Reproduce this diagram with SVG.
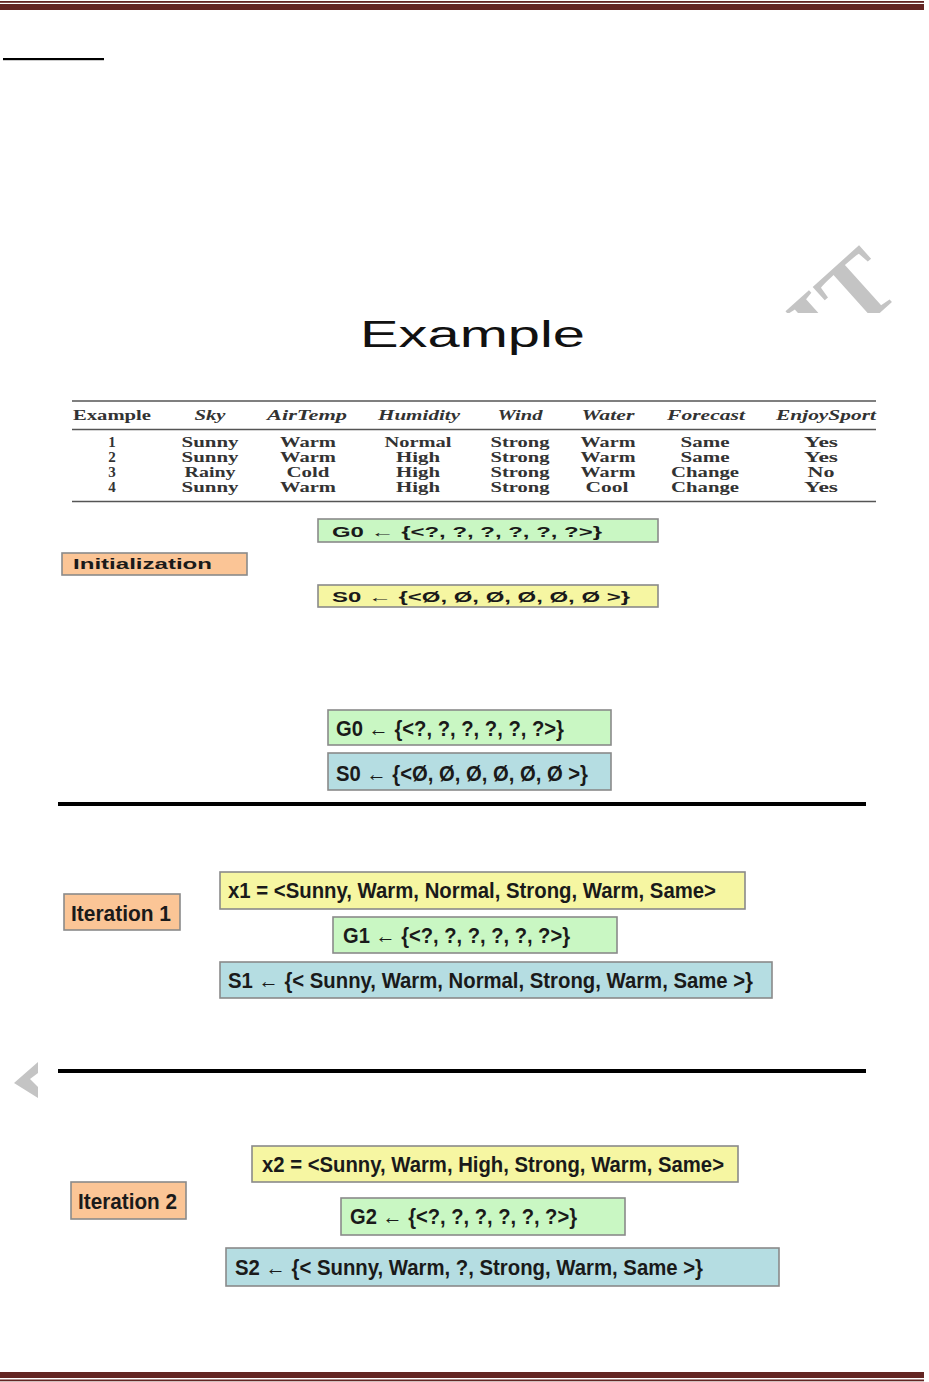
<svg xmlns="http://www.w3.org/2000/svg" width="929" height="1382" viewBox="0 0 929 1382">
<defs>
<style>
.bar{fill:#632523}
.rule{stroke:#000;stroke-width:4}
.tr{stroke:#555;stroke-width:1.6}
.th{font-family:"Liberation Serif",serif;font-size:15px;font-style:italic;font-weight:bold;fill:#333;text-anchor:middle}
.td{font-family:"Liberation Serif",serif;font-size:15px;font-weight:bold;fill:#333;text-anchor:middle}
.box{stroke:#8a8a8a;stroke-width:1.6}
.g{fill:#c9f7c3}
.y{fill:#f6f6a2}
.b{fill:#b5dde2}
.o{fill:#fbc596}
.t14{font-family:"Liberation Sans",Arial,sans-serif;font-weight:bold;font-size:14px;fill:#1a1a1a}
.t20{font-family:"Liberation Sans Narrow","Liberation Sans",Arial,sans-serif;font-weight:bold;font-size:22px;fill:#1a1a1a}
.wm{font-family:"Liberation Serif",serif;font-weight:bold;fill:#c4c4c4}
</style>
<clipPath id="c1" clipPathUnits="userSpaceOnUse"><rect x="740" y="220" width="189" height="93"/></clipPath>
</defs>

<g id="page-bars">
<rect class="bar" x="0" y="1" width="924" height="1.8"/>
<rect class="bar" x="0" y="4" width="924" height="6"/>
<rect class="bar" x="0" y="1372" width="924" height="6"/>
<rect class="bar" x="0" y="1379.5" width="924" height="1.8"/>
<rect x="3" y="58" width="101" height="2.2" fill="#000"/>
</g>

<g id="watermark">
<g clip-path="url(#c1)">
<text class="wm" font-size="98" text-anchor="end" transform="translate(903,292) rotate(-42)">IT</text>
</g>
<polygon fill="#c4c4c4" points="38,1062 14,1083 38,1098 38,1087 30,1079 38,1073"/>
</g>

<g id="title">
<text x="360" y="347" font-family="Liberation Sans,Arial,sans-serif" font-size="36" fill="#111" textLength="225" lengthAdjust="spacingAndGlyphs">Example</text>
</g>

<g id="table">
<line class="tr" x1="72" y1="401" x2="876" y2="401"/>
<line class="tr" x1="72" y1="429.5" x2="876" y2="429.5"/>
<line class="tr" x1="72" y1="501.5" x2="876" y2="501.5"/>
<text class="td" x="112" y="420" textLength="78" lengthAdjust="spacingAndGlyphs">Example</text>
<text class="th" x="210" y="420" textLength="31" lengthAdjust="spacingAndGlyphs">Sky</text>
<text class="th" x="307" y="420" textLength="80" lengthAdjust="spacingAndGlyphs">AirTemp</text>
<text class="th" x="419" y="420" textLength="82" lengthAdjust="spacingAndGlyphs">Humidity</text>
<text class="th" x="520" y="420" textLength="45" lengthAdjust="spacingAndGlyphs">Wind</text>
<text class="th" x="608" y="420" textLength="53" lengthAdjust="spacingAndGlyphs">Water</text>
<text class="th" x="706" y="420" textLength="78" lengthAdjust="spacingAndGlyphs">Forecast</text>
<text class="th" x="826" y="420" textLength="100" lengthAdjust="spacingAndGlyphs">EnjoySport</text>

<text class="td" x="112" y="447">1</text>
<text class="td" x="112" y="462">2</text>
<text class="td" x="112" y="477">3</text>
<text class="td" x="112" y="492">4</text>

<text class="td" x="210" y="447" textLength="57" lengthAdjust="spacingAndGlyphs">Sunny</text>
<text class="td" x="210" y="462" textLength="57" lengthAdjust="spacingAndGlyphs">Sunny</text>
<text class="td" x="210" y="477" textLength="51" lengthAdjust="spacingAndGlyphs">Rainy</text>
<text class="td" x="210" y="492" textLength="57" lengthAdjust="spacingAndGlyphs">Sunny</text>

<text class="td" x="308" y="447" textLength="56" lengthAdjust="spacingAndGlyphs">Warm</text>
<text class="td" x="308" y="462" textLength="56" lengthAdjust="spacingAndGlyphs">Warm</text>
<text class="td" x="308" y="477" textLength="43" lengthAdjust="spacingAndGlyphs">Cold</text>
<text class="td" x="308" y="492" textLength="56" lengthAdjust="spacingAndGlyphs">Warm</text>

<text class="td" x="418" y="447" textLength="67" lengthAdjust="spacingAndGlyphs">Normal</text>
<text class="td" x="418" y="462" textLength="44" lengthAdjust="spacingAndGlyphs">High</text>
<text class="td" x="418" y="477" textLength="44" lengthAdjust="spacingAndGlyphs">High</text>
<text class="td" x="418" y="492" textLength="44" lengthAdjust="spacingAndGlyphs">High</text>

<text class="td" x="520" y="447" textLength="59" lengthAdjust="spacingAndGlyphs">Strong</text>
<text class="td" x="520" y="462" textLength="59" lengthAdjust="spacingAndGlyphs">Strong</text>
<text class="td" x="520" y="477" textLength="59" lengthAdjust="spacingAndGlyphs">Strong</text>
<text class="td" x="520" y="492" textLength="59" lengthAdjust="spacingAndGlyphs">Strong</text>

<text class="td" x="608" y="447" textLength="55" lengthAdjust="spacingAndGlyphs">Warm</text>
<text class="td" x="608" y="462" textLength="55" lengthAdjust="spacingAndGlyphs">Warm</text>
<text class="td" x="608" y="477" textLength="55" lengthAdjust="spacingAndGlyphs">Warm</text>
<text class="td" x="607" y="492" textLength="43" lengthAdjust="spacingAndGlyphs">Cool</text>

<text class="td" x="705" y="447" textLength="49" lengthAdjust="spacingAndGlyphs">Same</text>
<text class="td" x="705" y="462" textLength="49" lengthAdjust="spacingAndGlyphs">Same</text>
<text class="td" x="705" y="477" textLength="68" lengthAdjust="spacingAndGlyphs">Change</text>
<text class="td" x="705" y="492" textLength="68" lengthAdjust="spacingAndGlyphs">Change</text>

<text class="td" x="821" y="447" textLength="34" lengthAdjust="spacingAndGlyphs">Yes</text>
<text class="td" x="821" y="462" textLength="34" lengthAdjust="spacingAndGlyphs">Yes</text>
<text class="td" x="821" y="477" textLength="27" lengthAdjust="spacingAndGlyphs">No</text>
<text class="td" x="821" y="492" textLength="34" lengthAdjust="spacingAndGlyphs">Yes</text>
</g>

<g id="init-G0">
<rect class="box g" x="318" y="519" width="340" height="23"/>
<text class="t14" x="332" y="537" textLength="270" lengthAdjust="spacingAndGlyphs">G0 ← {&lt;?, ?, ?, ?, ?, ?&gt;}</text>
</g>
<g id="init-label">
<rect class="box o" x="62" y="553" width="185" height="22"/>
<text class="t14" x="73" y="569" textLength="139" lengthAdjust="spacingAndGlyphs">Initialization</text>
</g>
<g id="init-S0">
<rect class="box y" x="318" y="585" width="340" height="22"/>
<text class="t14" x="332" y="602" textLength="298" lengthAdjust="spacingAndGlyphs">S0 ← {&lt;Ø, Ø, Ø, Ø, Ø, Ø &gt;}</text>
</g>

<g id="step0-G0">
<rect class="box g" x="328" y="710" width="283" height="35"/>
<text class="t20" x="336" y="736" textLength="228" lengthAdjust="spacingAndGlyphs">G0 ← {&lt;?, ?, ?, ?, ?, ?&gt;}</text>
</g>
<g id="step0-S0">
<rect class="box b" x="328" y="753" width="283" height="37"/>
<text class="t20" x="336" y="781" textLength="252" lengthAdjust="spacingAndGlyphs">S0 ← {&lt;Ø, Ø, Ø, Ø, Ø, Ø &gt;}</text>
</g>

<g id="separators">
<line class="rule" x1="58" y1="804" x2="866" y2="804"/>
<line class="rule" x1="58" y1="1071" x2="866" y2="1071"/>
</g>

<g id="iter1-label">
<rect class="box o" x="64" y="894" width="116" height="36"/>
<text class="t20" x="71" y="921" textLength="100" lengthAdjust="spacingAndGlyphs">Iteration 1</text>
</g>
<g id="iter1-x1">
<rect class="box y" x="220" y="872" width="525" height="37"/>
<text class="t20" x="228" y="898" textLength="488" lengthAdjust="spacingAndGlyphs">x1 = &lt;Sunny, Warm, Normal, Strong, Warm, Same&gt;</text>
</g>
<g id="iter1-G1">
<rect class="box g" x="333" y="917" width="284" height="36"/>
<text class="t20" x="343" y="943" textLength="227" lengthAdjust="spacingAndGlyphs">G1 ← {&lt;?, ?, ?, ?, ?, ?&gt;}</text>
</g>
<g id="iter1-S1">
<rect class="box b" x="220" y="962" width="552" height="36"/>
<text class="t20" x="228" y="988" textLength="525" lengthAdjust="spacingAndGlyphs">S1 ← {&lt; Sunny, Warm, Normal, Strong, Warm, Same &gt;}</text>
</g>

<g id="iter2-label">
<rect class="box o" x="71" y="1182" width="115" height="37"/>
<text class="t20" x="78" y="1209" textLength="99" lengthAdjust="spacingAndGlyphs">Iteration 2</text>
</g>
<g id="iter2-x2">
<rect class="box y" x="252" y="1146" width="486" height="36"/>
<text class="t20" x="262" y="1172" textLength="462" lengthAdjust="spacingAndGlyphs">x2 = &lt;Sunny, Warm, High, Strong, Warm, Same&gt;</text>
</g>
<g id="iter2-G2">
<rect class="box g" x="341" y="1198" width="284" height="37"/>
<text class="t20" x="350" y="1224" textLength="227" lengthAdjust="spacingAndGlyphs">G2 ← {&lt;?, ?, ?, ?, ?, ?&gt;}</text>
</g>
<g id="iter2-S2">
<rect class="box b" x="226" y="1248" width="553" height="38"/>
<text class="t20" x="235" y="1275" textLength="468" lengthAdjust="spacingAndGlyphs">S2 ← {&lt; Sunny, Warm, ?, Strong, Warm, Same &gt;}</text>
</g>

<g id="connectors"></g>
</svg>
